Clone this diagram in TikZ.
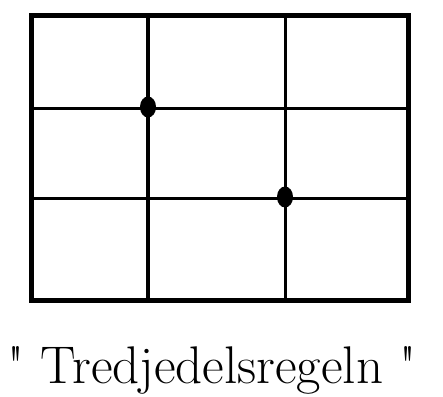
\documentclass[tikz,border=0pt]{standalone}
\begin{document}
\begin{tikzpicture}[x=1pt, y=-1pt,
  frame/.style={line width=5.5pt, line cap=rect},
  gridline/.style={line width=3.5pt},
  spot/.style={fill=black, x radius=8pt, y radius=10.5pt}]
\useasboundingbox (0,0) rectangle (443,396);
% outer frame
\draw[frame] (31.5,15.5) rectangle (408.5,300.5);
% thirds
\draw[gridline] (148,15) -- (148,301); \draw[gridline] (285.5,15) -- (285.5,301);
\draw[gridline] (31,108.5) -- (409,108.5); \draw[gridline] (31,198.5) -- (409,198.5);
% power points
\fill[spot] (148,107) ellipse [];
\fill[spot] (285,197) ellipse [];
% caption
\node[font=\fontsize{53}{60}\selectfont, anchor=base, inner sep=0pt] (cap) at (212,383) {\textquotedbl{} Tredjedelsregeln \textquotedbl};
\end{tikzpicture}
\end{document}
